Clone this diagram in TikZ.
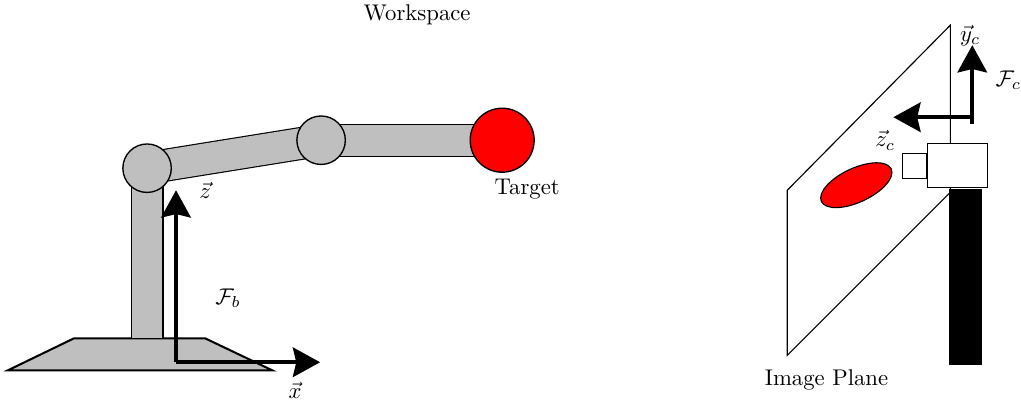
\documentclass[tikz,border=0pt]{standalone}
\usepackage{amsmath}
\usetikzlibrary{arrows.meta}

\begin{document}
\begin{tikzpicture}[
    joint/.style={circle, draw, fill=lightgray, line width=0.6pt,
                  minimum size=0.75cm, inner sep=0pt},
    link/.style={draw=black, line width=0.5pt, double=lightgray, double distance=13.5pt},
    axis/.style={line width=1.6pt, -{Stealth[length=12pt, width=13pt, inset=1.5pt]}},
    box/.style={rectangle, draw, fill=white, line width=0.5pt, inner sep=0pt},
]
\useasboundingbox (0,0) rectangle (15.80,6.21);

\node (ws) at (6.455,5.975) {Workspace};

% ---------------------------------------------------------------- the arm
\draw[fill=lightgray, line width=0.9pt]
    (0.124,0.480) -- (4.211,0.480) -- (3.173,0.975) -- (1.146,0.975) -- cycle;

\coordinate (hip) at (2.276,0.975);
\coordinate (c1) at (2.276,3.607);
\coordinate (c2) at (4.969,4.040);
\coordinate (c3) at (7.771,4.040);
\draw[link] (hip) -- (c1);
\draw[link] (c1) -- (c2);
\draw[link] (c2) -- (c3);

\node[joint] (j1) at (c1) {};
\node[joint] (j2) at (c2) {};
\node[circle, draw, fill=red, line width=0.6pt, minimum size=0.99cm, inner sep=0pt]
    (target) at (c3) {};
\node (tlab) at (8.158,3.282) {Target};

% base frame
\coordinate (ob) at (2.724,0.604);
\coordinate (zb) at (2.724,3.266);
\coordinate (xb) at (4.954,0.604);
\draw[axis] (ob) -- (zb);
\draw[axis] (ob) -- (xb);
\node (zlab) at (3.173,3.266) {$\vec{z}$};
\node (xlab) at (4.567,0.170) {$\vec{x}$};
\node (fb) at (3.529,1.594) {$\mathcal{F}_b$};

% ---------------------------------------------------------------- the camera
\draw[fill=white, line width=0.5pt]
    (12.183,3.266) -- (14.706,5.820) -- (14.706,3.235) -- (12.183,0.712) -- cycle;
\draw[fill=red, line width=0.5pt, rotate around={25:(13.251,3.344)}]
    (13.251,3.344) ellipse (0.596 and 0.263);
\node (iplab) at (12.790,0.325) {Image Plane};

\node[rectangle, fill=black, minimum width=0.511cm, minimum height=2.725cm, inner sep=0pt]
    (pillar) at (14.946,1.920) {};
\node[box, minimum width=0.929cm, minimum height=0.681cm] (cam) at (14.815,3.654) {};
\node[box, minimum width=0.371cm, minimum height=0.387cm] (lens) at (14.149,3.646) {};

% camera frame
\coordinate (oc) at (15.046,4.396);
\coordinate (ocy) at (15.046,4.288);
\coordinate (yc) at (15.046,5.511);
\coordinate (zc) at (13.824,4.396);
\draw[axis] (ocy) -- (yc);
\draw[axis] (oc) -- (zc);
\node (yclab) at (15.015,5.666) {$\vec{y}_c$};
\node (zclab) at (13.700,4.040) {$\vec{z}_c$};
\node (fc) at (15.604,4.969) {$\mathcal{F}_c$};
\end{tikzpicture}
\end{document}
